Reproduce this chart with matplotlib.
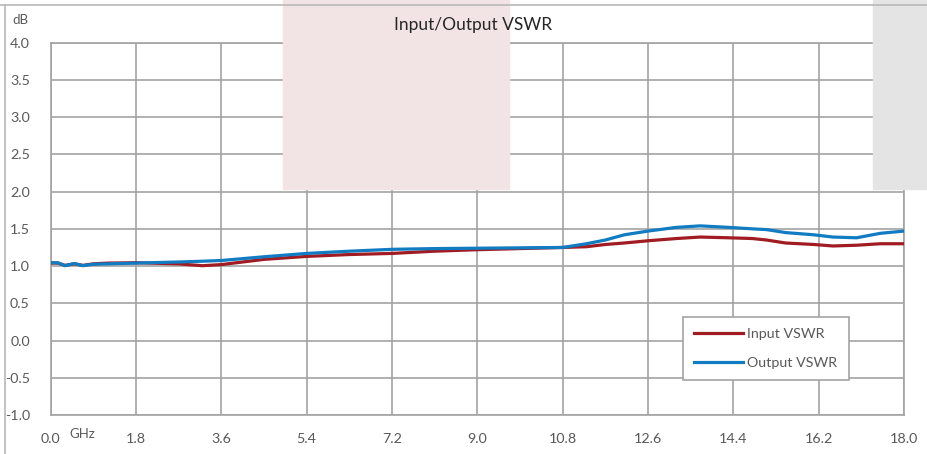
import matplotlib
matplotlib.use('Agg')
import matplotlib.pyplot as plt
from matplotlib.patches import Rectangle
from matplotlib.lines import Line2D

plt.rcParams['font.family'] = ['Lato', 'DejaVu Sans']

# frequency points (GHz) and VSWR readings
freq = [0.0, 0.15, 0.3, 0.5, 0.68, 0.9, 1.2, 1.8, 2.7, 3.2, 3.6, 4.5, 5.4, 6.3,
        7.2, 8.1, 9.0, 9.9, 10.8, 11.3, 11.7, 12.1, 12.6, 13.2, 13.7, 14.3,
        14.8, 15.1, 15.5, 16.1, 16.5, 17.0, 17.5, 18.0]
input_vswr = [1.04, 1.04, 1.01, 1.03, 1.01, 1.03, 1.04, 1.045, 1.03, 1.005,
              1.02, 1.09, 1.13, 1.155, 1.17, 1.20, 1.22, 1.235, 1.25, 1.26,
              1.29, 1.31, 1.34, 1.37, 1.39, 1.38, 1.37, 1.35, 1.31, 1.29,
              1.27, 1.28, 1.30, 1.30]
output_vswr = [1.045, 1.045, 1.005, 1.035, 1.005, 1.025, 1.03, 1.04, 1.055,
               1.065, 1.075, 1.125, 1.17, 1.20, 1.225, 1.235, 1.24, 1.245,
               1.25, 1.30, 1.35, 1.42, 1.47, 1.52, 1.54, 1.52, 1.50, 1.49,
               1.45, 1.42, 1.39, 1.38, 1.44, 1.47]

x_ticks = [0.0, 1.8, 3.6, 5.4, 7.2, 9.0, 10.8, 12.6, 14.4, 16.2, 18.0]
y_ticks = [-1.0, -0.5, 0.0, 0.5, 1.0, 1.5, 2.0, 2.5, 3.0, 3.5, 4.0]

W, H = 927, 454
fig = plt.figure(figsize=(W / 100, H / 100), dpi=100)

# background blocks from the screenshot
fig.patches.append(Rectangle((283 / W, 1 - 189 / H), 226 / W, 189 / H,
                             transform=fig.transFigure, color='#F2E4E4', zorder=0))
fig.patches.append(Rectangle((873 / W, 1 - 189 / H), 54 / W, 189 / H,
                             transform=fig.transFigure, color='#E4E4E4', zorder=0))
# outer frame lines
fig.lines.append(Line2D([0, 1], [1 - 5 / H, 1 - 5 / H], transform=fig.transFigure,
                        color='#B8B8B8', lw=1.2, zorder=1))
fig.lines.append(Line2D([5 / W, 5 / W], [0, 1 - 5 / H], transform=fig.transFigure,
                        color='#B8B8B8', lw=1.2, zorder=1))

ax = fig.add_axes([50.7 / W, 1 - 415 / H, 853.3 / W, 372.3 / H])
ax.patch.set_alpha(0)

grid_c = '#A3A3A3'
ax.plot(freq, input_vswr, color='#A01C22', lw=2.3, label='Input VSWR', zorder=3)
ax.plot(freq, output_vswr, color='#117CC2', lw=2.3, label='Output VSWR', zorder=4)

ax.set_xlim(0, 18)
ax.set_ylim(-1, 4)
ax.set_xticks(x_ticks)
ax.set_yticks(y_ticks)
ax.set_xticklabels(['%.1f' % v for v in x_ticks])
ax.set_yticklabels(['%.1f' % v for v in y_ticks])
ax.grid(True, color=grid_c, lw=1.2)
ax.set_axisbelow(True)
for s in ax.spines.values():
    s.set_color(grid_c)
    s.set_linewidth(1.2)
ax.tick_params(length=0, labelsize=10.3, colors='#595959')
ax.tick_params(axis='x', pad=13)
ax.tick_params(axis='y', pad=15)

fig.text(473 / W, 1 - 25 / H, 'Input/Output VSWR', ha='center', va='center',
         fontsize=12.5, color='#262626')
fig.text(20 / W, 1 - 20 / H, 'dB', ha='center', va='center', fontsize=9.5,
         color='#595959')
fig.text(82 / W, 1 - 434 / H, 'GHz', ha='center', va='center', fontsize=9.5,
         color='#595959')

leg = ax.legend(loc='upper left', bbox_to_anchor=(683 / W, 1 - 317 / H),
                bbox_transform=fig.transFigure, borderaxespad=0, fancybox=False,
                framealpha=1, edgecolor=grid_c, fontsize=10.3, labelspacing=1.15,
                handlelength=3.4, handletextpad=0.3, borderpad=0.8,
                labelcolor='#595959')
leg.get_frame().set_linewidth(1.2)

fig.savefig('out.png', dpi=100)
